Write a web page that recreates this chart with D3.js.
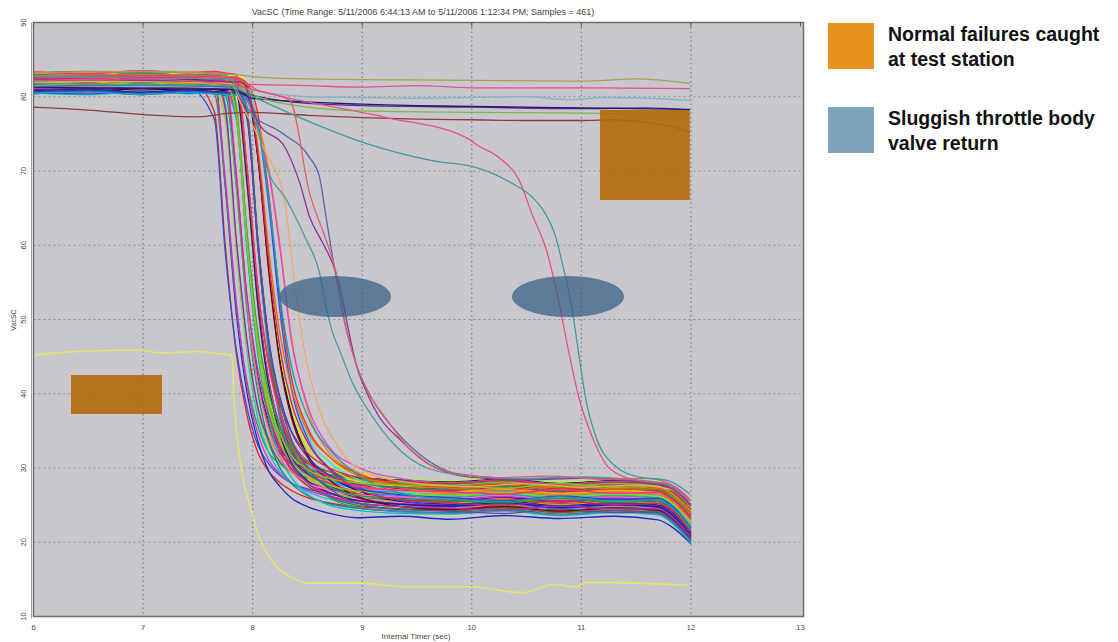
<!DOCTYPE html>
<html><head><meta charset="utf-8">
<script src="https://cdn.jsdelivr.net/npm/d3@7"></script>
<style>body{margin:0;background:#fff}svg{display:block}</style>
</head><body><svg id="c" width="1118" height="642"></svg>
<script>
// ---------------- data ----------------
const xTicks = [6, 7, 8, 9, 10, 11, 12, 13];
const yTicks = [10, 20, 30, 40, 50, 60, 70, 80, 90];
const titleText = "VacSC (Time Range: 5/11/2006 6:44:13 AM to 5/11/2006 1:12:34 PM; Samples = 461)";
const xLabel = "Internal Timer (sec)";
const yLabel = "VacSC";
const legendLines = [["Normal failures caught", "at test station"], ["Sluggish throttle body", "valve return"]];
const legendColors = ["#e8921e", "#7ea3bf"];

// shared time grid of the main bundle of traces
const bundleTimes = [6.0, 6.5, 7.0, 7.4, 7.65, 7.75, 7.85, 7.95, 8.05, 8.15, 8.25, 8.35, 8.5, 8.7, 8.95, 9.35, 9.8, 10.3, 10.8, 11.3, 11.7, 11.85, 12.0];
const bundleValues = [
 [82.6,82.9,82.4,82.7,78,60,45.5,37,32,29.5,28,27,26,25.3,24.8,24.5,24.2,24.6,24.0,24.3,24.0,22.8,20.5],
 [81.2,81.0,81.5,81.3,77,59,46,38,33,30.5,29,28,27.2,26.5,26,25.7,25.5,25.2,25.8,25.4,25.0,24.0,21.5],
 [83.0,82.8,83.2,83.0,82.5,68,51,40,33.5,29.5,27.5,26,24.8,23.9,23.3,23.5,23.1,23.6,23.2,23.5,23.0,21.8,19.8],
 [80.6,80.9,80.5,80.8,80.4,68,52,41.5,35.5,32,30.5,29.5,28.7,28,27.4,27,26.8,27.2,26.6,27.0,26.7,25.5,23.2],
 [82.0,82.3,81.8,82.2,81.8,69,52.5,41,34.5,31,29.2,28,27,26.2,25.6,25.2,25.0,25.4,24.8,25.1,24.7,23.5,21.0],
 [81.6,81.4,81.8,81.5,81.7,78,60.5,46.5,38,34,31.5,30.5,29.5,28.7,28.2,27.8,27.5,27.9,27.3,27.7,27.4,26.5,24.5],
 [83.3,83.0,83.4,83.1,83.3,79,60,45.5,36.5,32,29.5,28,26.8,25.8,25.2,24.9,24.7,25.1,24.5,24.9,24.5,23.2,20.8],
 [80.9,81.2,80.8,81.0,80.8,77,59.5,46,37.5,33,30.5,29.4,28.4,27.5,26.9,26.5,26.2,26.6,26.0,26.4,26.1,25.0,22.6],
 [82.3,82.1,82.5,82.2,82.4,78.5,61,47,38,33.5,30.8,29.5,28.2,27.2,26.5,26.1,25.8,26.2,25.6,26.0,25.7,24.5,22.0],
 [81.9,82.2,81.7,82.0,81.8,81.5,69,52.5,42,36,32.5,31,29.8,29.1,28.7,28.4,28.2,28.5,28.0,28.3,28.1,27.0,25.2],
 [80.4,80.7,80.3,80.6,80.4,80.2,68,51,40,33.5,30,28,26.3,25.2,24.6,24.2,24.0,24.4,23.8,24.2,23.9,22.6,20.2],
 [82.8,82.6,83.0,82.7,82.9,82.6,70,52,41.5,35.5,32,30.5,29,28,27.3,26.9,26.6,27.0,26.4,26.8,26.5,25.2,22.8],
 [81.3,81.1,81.5,81.2,81.4,81.2,68.5,51.5,41,35,31.2,29.5,27.8,26.6,25.9,25.5,25.3,25.7,25.1,25.5,25.2,24.0,21.6],
 [82.4,82.6,82.2,82.5,82.3,82.2,69.5,52,41.5,35.5,32,30.5,29.2,28.4,27.8,27.4,27.2,27.6,27.0,27.4,27.1,26.0,23.8],
 [82.1,81.9,82.3,82.0,82.2,82.0,78,60,45.5,37,32.5,29.8,27.6,26.2,25.3,24.8,24.5,24.9,24.3,24.7,24.4,23.0,20.5],
 [80.8,81.1,80.7,81.0,80.8,80.6,77.5,60.5,46.5,38,33.5,31,29.2,27.9,26.9,26.3,26.0,26.4,25.8,26.2,25.9,24.7,22.3],
 [83.0,82.8,83.2,82.9,83.1,82.9,79,61,47,38.5,34,31.5,30,29.1,28.5,28.0,27.8,28.2,27.6,28.0,27.7,26.6,24.6],
 [81.5,81.7,81.3,81.6,81.4,81.3,77.5,59.5,45.5,37,32.5,30,28,26.6,25.7,25.2,25.0,25.4,24.8,25.2,24.9,23.6,21.2],
 [82.5,82.3,82.7,82.4,82.6,82.4,78.5,60,46,37.5,33.5,31.2,29.5,28.4,27.6,27.1,26.9,27.3,26.7,27.1,26.8,25.6,23.3],
 [80.5,80.3,80.7,80.4,80.6,80.4,77,59,45,36.5,31.5,28.8,26.5,25,24.3,23.9,23.8,24.2,23.6,24.0,23.7,22.3,19.9],
 [82.2,82.4,82.0,82.3,82.1,82.0,81.8,69,52,41,35,31.5,29.3,27.6,26.4,25.9,25.6,26.0,25.4,25.8,25.5,24.2,21.8],
 [81.0,80.8,81.2,80.9,81.1,80.9,80.8,68.5,52,41.5,35.5,32.5,30.6,29.5,28.7,28.2,28.0,28.4,27.8,28.2,27.9,26.8,24.9],
 [83.2,83.4,83.0,83.3,83.1,83.0,82.8,70,52.5,41,34.5,30.5,28,26.1,25.0,24.5,24.3,24.7,24.1,24.5,24.2,22.9,20.4],
 [81.7,81.5,81.9,81.6,81.8,81.6,81.5,69,52,41.5,35.5,32,29.8,28.3,27.2,26.7,26.4,26.8,26.2,26.6,26.3,25.0,22.5],
 [82.7,82.9,82.5,82.8,82.6,82.5,82.4,69.5,52.5,41.5,35.5,32,30.2,28.9,27.8,27.2,27.0,27.4,26.8,27.2,26.9,25.7,23.4],
 [80.7,80.5,80.9,80.6,80.8,80.6,80.5,68,51.5,41,35,31.2,28.8,27.1,26.0,25.5,25.2,25.6,25.0,25.4,25.1,23.8,21.4],
 [82.0,82.2,81.8,82.1,81.9,81.8,81.7,78,60,46,37.5,33,30.3,28.5,27.2,26.4,26.1,26.5,25.9,26.3,26.0,24.7,22.2],
 [81.4,81.2,81.6,81.3,81.5,81.3,81.2,77.5,59.5,45.5,37,32.5,29.5,27.4,26.0,25.1,24.8,25.2,24.6,25.0,24.7,23.3,20.9],
 [82.9,82.7,83.1,82.8,83.0,82.8,82.7,78.5,60.5,46.5,38,33.5,31,29.5,28.5,27.9,27.6,28.0,27.4,27.8,27.5,26.4,24.3],
 [81.1,81.3,80.9,81.2,81.0,80.9,80.8,77,59.5,46,37.5,33,30,28,26.6,25.7,25.4,25.8,25.2,25.6,25.3,24.0,21.6],
 [82.6,82.4,82.8,82.5,82.7,82.5,82.4,78,59.5,45,36.5,31.5,28.3,26.0,24.7,24.1,23.9,24.3,23.7,24.1,23.8,22.4,20.0],
 [81.8,82.0,81.6,81.9,81.7,81.6,81.5,80.8,72,57,45,38,32.5,30,28.2,27.0,26.7,27.1,26.5,26.9,26.6,25.4,23.0],
 [80.9,80.7,81.1,80.8,81.0,80.8,80.7,80.2,71.5,56.5,44.5,37.5,31.8,29,27.0,25.5,25.1,25.5,24.9,25.3,25.0,23.7,21.2],
 [83.1,83.3,82.9,83.2,83.0,82.9,82.8,82.0,72.5,57.5,45.5,38.5,33,30.8,29.3,28.6,28.3,28.7,28.1,28.5,28.2,27.1,25.3],
 [82.3,82.1,82.5,82.2,82.4,82.2,82.1,81.3,71.5,56,44,37,31.5,28.4,26.2,24.8,24.4,24.8,24.2,24.6,24.3,23.0,20.6],
 [81.5,81.7,81.3,81.6,81.4,81.3,81.2,80.6,76.5,65.5,51.5,41.5,34.5,30.8,28.5,26.8,26.3,26.7,26.1,26.5,26.2,25.0,22.7],
 [82.8,82.6,83.0,82.7,82.9,82.7,82.6,81.8,77.5,66.5,52.5,42.5,35.5,31.5,29.3,27.8,27.4,27.8,27.2,27.6,27.3,26.2,24.0],
 [80.6,80.4,80.8,80.5,80.7,80.5,80.4,79.8,76,65,51,41,34,30,27.6,25.6,25.0,25.4,24.8,25.2,24.9,23.6,21.1],
 [82.4,82.6,82.2,82.5,82.3,82.2,82.1,80.5,76.5,70,60,48,38,32,29.5,27.5,26.6,27.0,26.4,26.8,26.5,25.3,22.9],
 [81.2,81.0,81.4,81.1,81.3,81.1,81.0,79.5,75.5,69.5,59.5,47.5,38.5,32.8,30.2,28.6,28.0,28.4,27.8,28.2,27.9,26.8,24.8],
 [81.9,81.7,82.1,81.8,82.0,81.8,77.8,60.2,46.2,37.8,33.2,30.8,28.9,27.7,26.9,26.5,26.3,26.7,26.1,26.5,26.2,25.0,22.4],
 [80.8,81.0,80.6,80.9,80.7,80.6,80.5,68.2,51.6,40.8,34.6,30.8,28.3,26.7,25.6,25.1,24.9,25.3,24.7,25.1,24.8,23.4,20.9],
 [83.4,83.2,83.5,83.3,83.4,83.2,69.8,52.3,41.2,35,31.4,29.6,28,27,26.4,26.1,25.9,26.3,25.7,26.1,25.8,24.6,22.1],
 [81.6,81.8,81.4,81.7,81.5,81.4,81.3,77.6,60,46.2,37.8,33.3,30.7,29.1,28.0,27.4,27.1,27.5,26.9,27.3,27.0,25.8,23.6],
 [82.1,82.3,81.9,82.2,82.0,81.9,81.8,70,54,44,38.5,35,32,30,28.8,28.2,27.9,28.3,27.7,28.1,27.8,26.6,24.4],
 [80.7,80.9,80.5,80.8,80.6,80.5,80.4,77,60,47,39.5,35,31.5,29,27.3,26.4,26.0,25.6,26.2,25.8,25.9,24.6,22.0],
 [83.0,82.8,83.2,82.9,83.1,82.9,78.5,61.5,48,40,35.5,32.5,29.5,27.5,26.3,25.8,25.6,25.3,25.9,25.4,25.5,24.3,21.7],
 [81.9,81.7,82.1,81.8,82.0,81.8,81.7,81.0,73,59,48,41,35,31.5,29.0,27.7,27.3,27.0,27.6,27.2,27.2,26.0,23.7],
 [82.2,82.0,82.4,82.1,82.3,82.1,69.5,53,43,37,33,30.5,28,26.3,25.3,24.8,24.6,24.3,24.9,24.5,24.5,23.1,20.7],
 [80.5,80.7,80.3,80.6,80.4,80.3,80.2,79.6,76,66,53,44,37,32.5,29.2,26.6,25.8,25.5,26.1,25.6,25.7,24.4,21.9],
 [83.3,83.1,83.5,83.2,83.4,83.2,83.0,70.5,54,43.5,37.5,33.8,30.8,28.8,27.6,27.0,26.8,26.5,27.1,26.6,26.7,25.5,23.1],
 [81.3,81.5,81.1,81.4,81.2,81.1,81.0,77.5,60.5,47,39,34,30,27.2,25.3,24.4,24.2,23.9,24.5,24.0,24.1,22.7,20.3],
 [81.8,81.6,82.0,81.7,81.9,81.7,78,60.5,47,39,34.5,31.8,29.8,28.6,28.0,27.7,27.6,27.3,27.9,27.4,27.5,26.3,24.2],
 [82.6,82.4,82.8,82.5,82.7,82.5,82.4,81.6,72,57.5,46,39,33.5,29.8,27.2,25.7,25.3,25.0,25.6,25.1,25.2,23.9,21.4]
];
const bundleColors = ["#e8201c","#2c4fd6","#1a2bc4","#2ca02c","#d62ad6","#ff8c1a","#19c0d0","#9acd32","#7b2cbf","#0b1f7a",
 "#008a8a","#ff5fa8","#66e020","#8b4513","#dc143c","#4169e1","#32cd32","#ff1493","#ffa020","#00c0c8",
 "#6a0dad","#b22222","#228b22","#1e90ff","#c71585","#d4a520","#20b2aa","#9400d3","#6b8e23","#ff4500",
 "#4682b4","#e8d000","#000080","#adff2f","#800000","#40e0d0","#ff2020","#3050ff","#ff7f00","#e040e0",
 "#8fd400","#1a237e","#ff69b4","#2e8b57","#c03030","#3a3ad0","#20a040","#e07000","#b030b0","#10a0b0",
 "#ff3070","#5050a0","#90c020","#d02060"];

// individual traces that fail differently
const yellowTimes = [6.0,6.3,6.6,6.9,7.2,7.5,7.75,7.81,7.83,7.86,7.91,7.98,8.07,8.19,8.35,8.5,9.0,9.4,10.0,10.45,10.75,10.95,11.05,11.5,11.97];
const yellowValues = [45.2,45.6,45.8,45.9,45.5,45.7,45.3,45.2,39.4,34.0,28.8,24.7,20.3,17.2,15.3,14.5,14.5,14.0,14.0,13.2,14.3,14.0,14.6,14.5,14.2];
const oliveTimes = [6.0,7.0,7.8,8.2,9.0,10.0,11.0,11.5,11.99];
const oliveValues = [83.2,83.4,83.0,82.5,82.3,82.2,82.1,82.4,81.8];
const pinkTopTimes = [6.0,7.0,7.8,7.95,8.5,9.0,9.5,10.0,11.0,11.99];
const pinkTopValues = [82.5,82.7,82.5,81.7,81.5,81.3,81.5,81.2,81.2,81.1];
const cyanTimes = [6.0,7.0,7.8,8.2,8.5,9.0,9.5,10.0,10.5,10.9,11.2,11.6,11.99];
const cyanValues = [81.5,81.4,81.2,80.4,80.0,79.9,79.8,79.9,80.0,79.6,79.9,79.8,79.5];
const purpleTimes = [6.0,7.0,7.8,8.0,8.5,9.0,10.0,11.0,11.6,11.99];
const purpleValues = [81.0,81.2,81.0,80.2,79.1,78.8,78.6,78.4,78.5,78.2];
const navyTimes = [6.0,7.0,7.8,8.0,9.0,10.0,11.0,11.99];
const navyValues = [81.3,81.1,81.0,79.8,79.0,78.7,78.5,78.3];
const greenTimes = [6.0,7.0,7.8,8.1,8.5,9.0,10.0,11.0,11.99];
const greenValues = [82.0,82.2,81.6,79.7,78.6,78.1,77.9,77.8,77.6];
const brownTimes = [6.0,6.5,7.0,7.5,7.8,8.0,8.5,9.0,9.5,10.0,10.5,11.0,11.3,11.6,11.85,11.99];
const brownValues = [78.6,78.2,77.6,77.3,77.8,77.9,77.5,77.2,77.0,76.9,76.8,76.8,76.9,76.5,75.9,75.2];
const pinkSlowTimes = [6.0,7.0,7.82,8.43,9.22,9.95,10.06,10.25,10.43,10.56,10.68,10.79,10.88,10.97,11.11,11.26,11.52,11.79,11.99];
const pinkSlowValues = [82.2,82.4,81.5,79.5,77.2,74.5,73.4,71.8,68.8,63.8,59.4,52.7,46.0,39.9,33.8,29.9,28.3,27.9,25.8];
const tealSlowTimes = [6.0,7.0,7.8,7.95,8.43,9.04,9.64,10.06,10.36,10.55,10.67,10.76,10.84,10.9,10.97,11.04,11.14,11.29,11.52,11.79,11.99];
const tealSlowValues = [81.8,81.6,81.5,80.4,77.2,73.7,71.4,70.4,68.4,66.5,64.3,61.4,56.7,52.7,46.0,39.3,33.9,30.5,28.8,28.3,26.5];
const orangeMidTimes = [6.0,7.0,7.8,7.88,8.11,8.29,8.38,8.47,8.61,8.79,9.06,9.52,10.0,10.5,11.0,11.5,11.8,11.99];
const orangeMidValues = [81.9,82.1,81.8,79.5,72.8,66.1,55.3,46.0,37.9,32.6,29.2,27.9,27.5,27.9,27.4,27.7,27.2,24.9];
const purpleMidTimes = [6.0,7.0,7.9,8.04,8.31,8.43,8.52,8.64,8.76,8.82,8.88,8.95,9.04,9.15,9.34,9.61,9.97,10.5,11.0,11.5,11.8,11.99];
const purpleMidValues = [82.4,82.2,82.0,76.8,72.8,68.4,63.8,60.3,56.3,52.7,48.2,43.7,40.2,37.0,33.9,30.5,28.8,28.4,28.6,28.2,27.4,25.0];
const blueMidTimes = [6.0,7.0,7.8,7.88,7.97,8.27,8.52,8.61,8.67,8.73,8.79,8.85,8.95,9.09,9.27,9.52,9.88,10.5,11.0,11.5,11.8,11.99];
const blueMidValues = [81.4,81.6,81.3,80.2,78.1,75.1,71.8,69.2,63.8,58.4,53.6,49.0,43.7,39.3,35.6,31.9,29.2,28.5,28.7,28.3,27.6,25.3];
const tealMidTimes = [6.0,7.0,7.8,7.88,8.04,8.13,8.31,8.49,8.61,8.67,8.73,8.79,8.91,9.09,9.29,9.61,10.0,10.5,11.0,11.5,11.8,11.99];
const tealMidValues = [82.7,82.5,82.4,80.2,75.9,70.5,66.1,60.7,56.3,51.7,48.2,46.0,41.5,37.0,33.2,29.9,28.9,28.6,28.8,28.4,27.8,25.6];
const salmonMidTimes = [6.0,7.0,7.8,8.06,8.34,8.52,8.67,8.76,8.82,8.91,9.04,9.22,9.43,9.75,10.2,10.7,11.2,11.6,11.8,11.99];
const salmonMidValues = [82.8,83.0,82.7,80.8,79.5,67.0,60.7,56.3,50.9,45.6,40.6,36.6,32.6,29.6,28.7,28.9,28.5,28.6,27.9,25.5];

const specialColors = {yellow:"#e6e46e", olive:"#a6a244", pinkTop:"#e2508e", cyan:"#7db6c9", purple:"#5e2a8c",
  navy:"#1c1c70", green:"#78b846", brown:"#8c3a3a", pinkSlow:"#e6508a", tealSlow:"#3a9e94", orangeMid:"#f0a860",
  purpleMid:"#8c3296", blueMid:"#5468a8", tealMid:"#4a9a9e", salmonMid:"#e0606e"};

// annotation shapes, in data units
const boxes = [{t0:6.342, t1:7.173, v0:37.27, v1:42.53}, {t0:11.17, t1:11.99, v0:66.09, v1:78.22}];
const ellipses = [{t:8.752, v:53.1, rt:0.511, rv:2.76}, {t:10.878, v:53.1, rt:0.511, rv:2.76}];

// ---------------- chart ----------------
const svg = d3.select("#c");
const L = 33.5, R = 800.5, T = 22.5, B = 616.5, frameR = 803.5;
const x = d3.scaleLinear().domain([6, 13]).range([L, R]);
const y = d3.scaleLinear().domain([10, 90]).range([B, T]);

svg.append("rect").attr("x", L).attr("y", T).attr("width", frameR - L).attr("height", B - T).attr("fill", "#c9c7cd");

// grid
const g = svg.append("g");
g.selectAll("line.v").data(xTicks.filter(d => d > 6 && d < 13)).enter().append("line")
  .attr("x1", d => x(d)).attr("x2", d => x(d)).attr("y1", T).attr("y2", B)
  .attr("stroke", "#7c7c80").attr("stroke-width", 1.2).attr("stroke-dasharray", "1.5,3");
g.selectAll("line.h").data(yTicks.filter(d => d > 10 && d < 90)).enter().append("line")
  .attr("x1", L).attr("x2", frameR).attr("y1", d => y(d)).attr("y2", d => y(d))
  .attr("stroke", "#8c8c90").attr("stroke-width", 1).attr("stroke-dasharray", "2,3");

const line = d3.line().x(d => x(d[0])).y(d => y(d[1])).curve(d3.curveMonotoneX);

// bundle
const lg = svg.append("g").attr("fill", "none").attr("stroke-width", 1.3);
bundleValues.forEach((vals, i) => {
  lg.append("path").attr("d", line(bundleTimes.map((t, j) => [t, vals[j]])))
    .attr("stroke", bundleColors[i % bundleColors.length]);
});

const specials = [
  ["olive", oliveTimes, oliveValues], ["pinkTop", pinkTopTimes, pinkTopValues], ["cyan", cyanTimes, cyanValues],
  ["purple", purpleTimes, purpleValues], ["navy", navyTimes, navyValues], ["green", greenTimes, greenValues],
  ["brown", brownTimes, brownValues], ["orangeMid", orangeMidTimes, orangeMidValues],
  ["purpleMid", purpleMidTimes, purpleMidValues], ["blueMid", blueMidTimes, blueMidValues],
  ["tealMid", tealMidTimes, tealMidValues], ["salmonMid", salmonMidTimes, salmonMidValues],
  ["pinkSlow", pinkSlowTimes, pinkSlowValues], ["tealSlow", tealSlowTimes, tealSlowValues],
  ["yellow", yellowTimes, yellowValues]
];
specials.forEach(([k, ts, vs]) => {
  lg.append("path").attr("d", line(ts.map((t, j) => [t, vs[j]])))
    .attr("stroke", specialColors[k]).attr("stroke-width", k === "yellow" ? 1.6 : 1.3);
});

// annotations
svg.selectAll("rect.box").data(boxes).enter().append("rect")
  .attr("x", d => x(d.t0)).attr("y", d => y(d.v1))
  .attr("width", d => x(d.t1) - x(d.t0)).attr("height", d => y(d.v0) - y(d.v1))
  .attr("fill", "#b36a08").attr("fill-opacity", 0.9);
svg.selectAll("ellipse").data(ellipses).enter().append("ellipse")
  .attr("cx", d => x(d.t)).attr("cy", d => y(d.v))
  .attr("rx", d => x(6 + d.rt) - x(6)).attr("ry", d => y(10) - y(10 + d.rv))
  .attr("fill", "#3a6188").attr("fill-opacity", 0.75);

// frame
svg.append("rect").attr("x", L).attr("y", T).attr("width", frameR - L).attr("height", B - T)
  .attr("fill", "none").attr("stroke", "#6e6e72").attr("stroke-width", 1.5);
svg.append("line").attr("x1", L - 2).attr("x2", L - 2).attr("y1", T).attr("y2", B + 2)
  .attr("stroke", "#a0a0a4").attr("stroke-width", 1);

// ticks on top
svg.selectAll("line.tt").data(xTicks).enter().append("line")
  .attr("x1", d => x(d)).attr("x2", d => x(d)).attr("y1", T).attr("y2", T + 4)
  .attr("stroke", "#555").attr("stroke-width", 1);

// axis labels
const ax = svg.append("g").attr("font-family", "Liberation Sans, Arial, sans-serif").attr("fill", "#444");
ax.selectAll("text.xt").data(xTicks).enter().append("text")
  .attr("x", d => x(d)).attr("y", 630).attr("text-anchor", "middle").attr("font-size", 7.5)
  .text(d => d);
ax.selectAll("text.yt").data(yTicks).enter().append("text")
  .attr("transform", d => `translate(26,${y(d)}) rotate(-90)`).attr("text-anchor", "middle")
  .attr("font-size", 7.5).text(d => d);
ax.append("text").attr("x", 416).attr("y", 639).attr("text-anchor", "middle").attr("font-size", 8).text(xLabel);
ax.append("text").attr("transform", "translate(16,320) rotate(-90)").attr("text-anchor", "middle")
  .attr("font-size", 7).text(yLabel);
ax.append("text").attr("x", 423).attr("y", 15).attr("text-anchor", "middle").attr("font-size", 9).text(titleText);

// legend
const leg = svg.append("g").attr("font-family", "Liberation Sans, Arial, sans-serif");
legendLines.forEach((lines, i) => {
  const top = 23 + i * 84;
  leg.append("rect").attr("x", 828).attr("y", top).attr("width", 46).attr("height", 46).attr("fill", legendColors[i]);
  lines.forEach((s, k) => {
    leg.append("text").attr("x", 888).attr("y", top + 18 + k * 25).attr("font-size", 19.5)
      .attr("font-weight", "bold").attr("fill", "#111").text(s);
  });
});
</script>
</body></html>
